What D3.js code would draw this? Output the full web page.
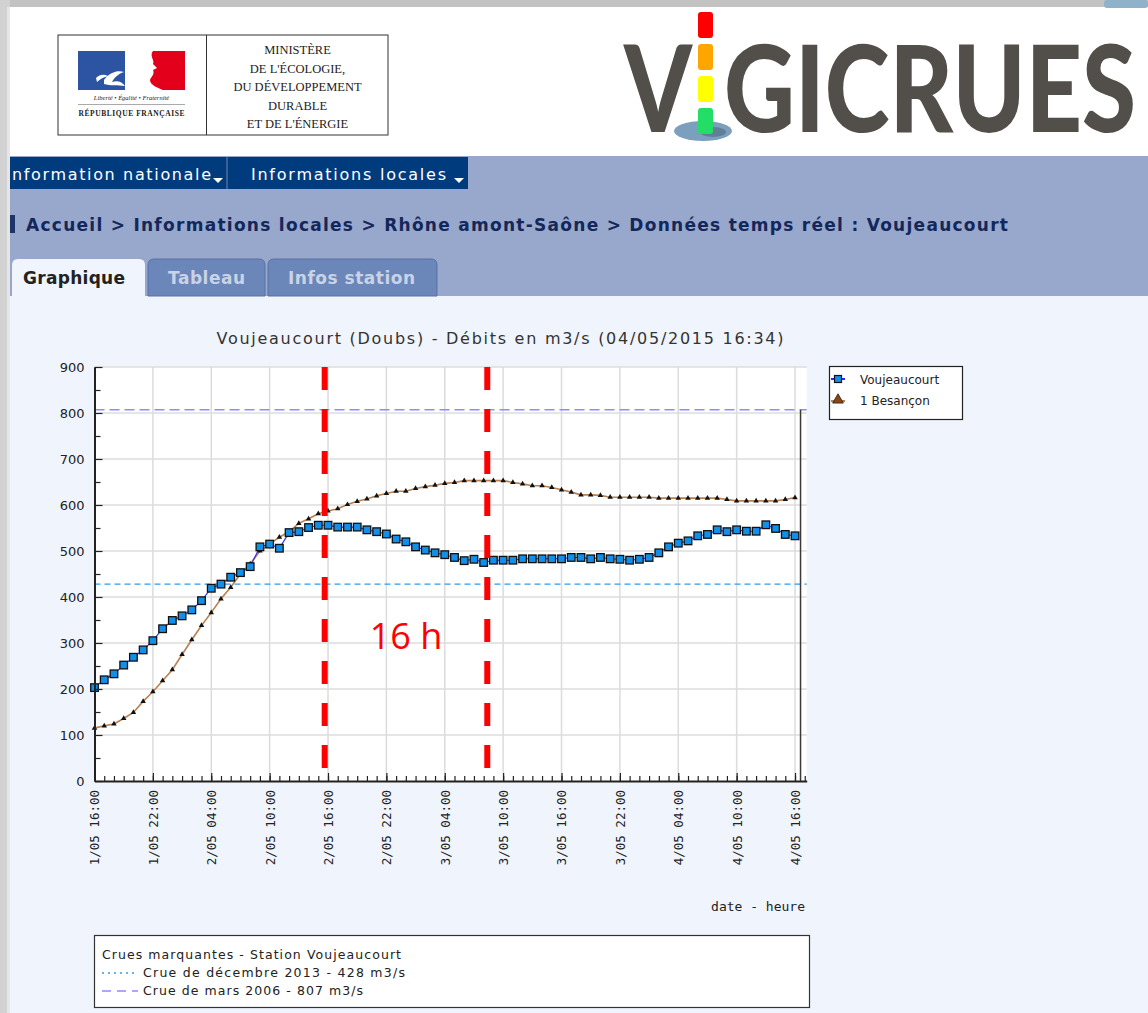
<!DOCTYPE html>
<html>
<head>
<meta charset="utf-8">
<script src="https://cdnjs.cloudflare.com/ajax/libs/d3/7.8.5/d3.min.js"></script>
<style>
  body { margin: 0; background: #fff; }
  svg { display: block; }
</style>
</head>
<body>
<script>
// DONNEES - débits horaires (m3/s) depuis le 1/05 16:00
var vouj = [203, 220, 233, 252, 269, 285, 305, 331, 349, 359,
  372, 392, 419, 428, 443, 453, 466, 509, 515, 506,
  540, 542, 551, 556, 556, 552, 552, 552, 546, 542,
  537, 526, 520, 509, 502, 496, 492,
  486, 479, 482, 475, 480, 480, 480, 483, 483, 483,
  483, 483, 486, 486, 483, 486, 483, 482, 480, 482,
  486, 496, 509, 517, 522, 533, 536, 546, 542, 546,
  543, 543, 557, 549, 536, 533];

var besancon = [115, 120, 124, 136, 149, 173, 194, 218, 242, 275,
  307, 338, 366, 396, 421, 450, 472, 500, 515, 530,
  542, 560, 570, 581, 587, 592, 601, 608, 613, 620,
  625, 630, 630, 636, 640, 643, 647,
  649, 653, 653, 653, 653, 653, 649, 646, 642, 642,
  638, 633, 628, 622, 622, 621, 617, 617, 617, 617,
  617, 615, 615, 615, 615, 615, 615, 615, 612, 609,
  609, 609, 609, 609, 612, 616];

var seriesNames = ["Voujeaucourt", "1 Besançon"];

// crues marquantes
var seuilValues = [428, 807];
var seuilLabels = ["Crue de décembre 2013 - 428 m3/s", "Crue de mars 2006 - 807 m3/s"];

// annotations ajoutées (traits rouges), en heures depuis le début
var annotHours = [23.66, 40.37];
var annotLabel = "16 h";

var yTicks = [0, 100, 200, 300, 400, 500, 600, 700, 800, 900];

var t0 = new Date(2015, 4, 1, 16, 0);
var tEnd = new Date(2015, 4, 4, 17, 12);
var tNow = new Date(2015, 4, 4, 16, 34);
var HOUR = 3600 * 1000;

// SVG
var svg = d3.select("body").append("svg")
  .attr("width", 1148)
  .attr("height", 1013)
  .style("font-family", "'DejaVu Sans', Verdana, sans-serif");

// PAGE BACKGROUND
svg.append("rect").attr("width", 1148).attr("height", 1013).attr("fill", "#ffffff");
svg.append("rect").attr("x", 0).attr("y", 0).attr("width", 1148).attr("height", 7).attr("fill", "#c2c2c2");
svg.append("rect").attr("x", 0).attr("y", 0).attr("width", 10).attr("height", 1013).attr("fill", "#d2d2d2");
svg.append("rect").attr("x", 7).attr("y", 7).attr("width", 3).attr("height", 1006).attr("fill", "#e6e6e6");
svg.append("rect").attr("x", 1104).attr("y", 0).attr("width", 44).attr("height", 8).attr("rx", 3).attr("fill", "#8fb1c9");

// MINISTERE LOGO
var logo = svg.append("g");
logo.append("rect").attr("x", 58).attr("y", 35).attr("width", 330).attr("height", 100)
  .attr("fill", "#fff").attr("stroke", "#333").attr("stroke-width", 1);
logo.append("line").attr("x1", 206.5).attr("x2", 206.5).attr("y1", 35).attr("y2", 135)
  .attr("stroke", "#333").attr("stroke-width", 1);
logo.append("rect").attr("x", 78).attr("y", 51).attr("width", 47).attr("height", 39).attr("fill", "#2d54a3");
logo.append("rect").attr("x", 146).attr("y", 51).attr("width", 39).attr("height", 39).attr("fill", "#e2001a");
logo.append("path")
  .attr("d", "M140,51 L153,51 C149,56 155,60 153,64 L157,68 L153,70 C155,74 151,77 150,80 C150,85 158,88 163,90 L140,90 Z")
  .attr("fill", "#fff");
logo.append("path")
  .attr("d", "M104,80 C110,72 118,70 124,72 C118,74 114,78 112,82 C118,80 122,82 125,86 C118,85 110,86 104,84 Z M96,78 C100,74 104,74 108,76 C104,77 100,79 97,82 Z")
  .attr("fill", "#fff");
logo.append("text").attr("x", 131.5).attr("y", 100).attr("text-anchor", "middle")
  .style("font-family", "'Liberation Serif', serif").style("font-style", "italic").style("font-size", "6.5px")
  .attr("fill", "#222").text("Liberté • Égalité • Fraternité");
logo.append("line").attr("x1", 78).attr("x2", 185).attr("y1", 104.5).attr("y2", 104.5)
  .attr("stroke", "#555").attr("stroke-width", 0.5);
logo.append("text").attr("x", 131.5).attr("y", 116).attr("text-anchor", "middle")
  .style("font-family", "'Liberation Serif', serif").style("font-weight", "bold").style("font-size", "7.5px")
  .attr("fill", "#222").attr("textLength", 106).text("RÉPUBLIQUE FRANÇAISE");

var minLines = ["MINISTÈRE", "DE L'ÉCOLOGIE,", "DU DÉVELOPPEMENT", "DURABLE", "ET DE L'ÉNERGIE"];
var minY = [54, 73, 91, 110, 128];
logo.selectAll(".min").data(minLines).enter().append("text")
  .attr("x", 297.5).attr("y", (d, i) => minY[i]).attr("text-anchor", "middle")
  .style("font-family", "'Liberation Serif', 'DejaVu Serif', serif").style("font-size", "12.5px")
  .attr("fill", "#222").text(d => d);

// VIGICRUES LOGO
var vig = svg.append("g");
vig.append("ellipse").attr("cx", 703).attr("cy", 131).attr("rx", 29).attr("ry", 10).attr("fill", "#7d9fbe");
vig.append("ellipse").attr("cx", 713).attr("cy", 132).attr("rx", 13).attr("ry", 5).attr("fill", "#627f98");
var lightCols = ["#ff0000", "#ffa500", "#ffff00", "#22dd66"];
vig.selectAll(".feu").data(lightCols).enter().append("rect")
  .attr("x", 698).attr("y", (d, i) => 12 + i * 32).attr("width", 15).attr("height", 26).attr("rx", 3)
  .attr("fill", d => d);
// lettres étirées verticalement pour garder une largeur naturelle modeste
[{t: "V", x: 624, w: 68}, {t: "GICRUES", x: 724, w: 412}].forEach(function(l) {
  vig.append("text").attr("x", 0).attr("y", 0)
    .attr("transform", `translate(${l.x},132) scale(1,1.5)`)
    .style("font-family", "Lato, Roboto, 'Open Sans', sans-serif").style("font-weight", 900).style("font-size", "80px")
    .attr("fill", "#524e49").attr("textLength", l.w).attr("lengthAdjust", "spacingAndGlyphs").text(l.t);
});

// NAVIGATION
svg.append("rect").attr("x", 10).attr("y", 156).attr("width", 1138).attr("height", 140).attr("fill", "#97a8cc");
svg.append("rect").attr("x", 10).attr("y", 157).attr("width", 216).attr("height", 32).attr("fill", "#003c7d");
svg.append("rect").attr("x", 226).attr("y", 157).attr("width", 2).attr("height", 32).attr("fill", "#3d5f95");
svg.append("rect").attr("x", 228).attr("y", 157).attr("width", 240).attr("height", 32).attr("fill", "#003c7d");
var menu = [{t: "nformation nationale", x: 12, w: 199, a: 213}, {t: "Informations locales", x: 251, w: 195, a: 454}];
menu.forEach(function(m) {
  svg.append("text").attr("x", m.x).attr("y", 180).attr("fill", "#fff")
    .style("font-size", "16px").attr("textLength", m.w).text(m.t);
  svg.append("path").attr("d", `M${m.a},178 l10,0 l-5,5 z`).attr("fill", "#fff");
});

svg.append("rect").attr("x", 10).attr("y", 215).attr("width", 5).attr("height", 18).attr("fill", "#1d3566");
svg.append("text").attr("x", 26).attr("y", 231).attr("fill", "#14275a")
  .style("font-size", "17px").style("font-weight", "bold").attr("textLength", 982)
  .text("Accueil > Informations locales > Rhône amont-Saône > Données temps réel : Voujeaucourt");

// CONTENT
svg.append("rect").attr("x", 10).attr("y", 296).attr("width", 1138).attr("height", 717).attr("fill", "#f0f5fd");

// TABS
var tabs = [
  {t: "Graphique", x0: 12, x1: 145, tx: 23, tw: 102, on: true},
  {t: "Tableau", x0: 148, x1: 265, tx: 168, tw: 77, on: false},
  {t: "Infos station", x0: 268, x1: 437, tx: 288, tw: 127, on: false}
];
tabs.forEach(function(tb) {
  var r = 6, top = 259, bot = tb.on ? 297 : 296;
  svg.append("path")
    .attr("d", `M${tb.x0},${bot} L${tb.x0},${top + r} Q${tb.x0},${top} ${tb.x0 + r},${top} L${tb.x1 - r},${top} Q${tb.x1},${top} ${tb.x1},${top + r} L${tb.x1},${bot} Z`)
    .attr("fill", tb.on ? "#f0f5fd" : "#6b86b9")
    .attr("stroke", tb.on ? "none" : "#5870a3").attr("stroke-width", 1);
  svg.append("text").attr("x", tb.tx).attr("y", 284)
    .attr("fill", tb.on ? "#222" : "#c9d3e6")
    .style("font-size", "17px").style("font-weight", "bold").attr("textLength", tb.tw).text(tb.t);
});

// CHART
var xScale = d3.scaleTime().domain([t0, tEnd]).range([94.5, 806.7]);
var yScale = d3.scaleLinear().domain([0, 900]).range([781, 367]);
var times = vouj.map((d, i) => new Date(+t0 + i * HOUR));
var majorTimes = d3.range(0, 73, 6).map(h => new Date(+t0 + h * HOUR));
var minorTimes = d3.range(0, 74).map(h => new Date(+t0 + h * HOUR));

var chart = svg.append("g");

chart.append("text").attr("x", 500).attr("y", 344).attr("text-anchor", "middle")
  .attr("fill", "#333").style("font-size", "16px").attr("textLength", 567)
  .text("Voujeaucourt (Doubs) - Débits en m3/s (04/05/2015 16:34)");

// plot area
chart.append("rect")
  .attr("x", xScale(t0)).attr("y", yScale(900))
  .attr("width", xScale(tEnd) - xScale(t0)).attr("height", yScale(0) - yScale(900))
  .attr("fill", "#fff");

// GRID
chart.selectAll(".hgrid").data(yTicks.slice(1)).enter().append("line")
  .attr("x1", xScale(t0)).attr("x2", xScale(tEnd))
  .attr("y1", d => yScale(d)).attr("y2", d => yScale(d))
  .attr("stroke", "#dcdcdc").attr("stroke-width", 1.5);
chart.selectAll(".vgrid").data(majorTimes.slice(1)).enter().append("line")
  .attr("x1", d => xScale(d)).attr("x2", d => xScale(d))
  .attr("y1", yScale(900)).attr("y2", yScale(0))
  .attr("stroke", "#dcdcdc").attr("stroke-width", 1.5);

// SEUILS
var seuilColors = ["#2d9cf0", "#8c8cff"];
var seuilDash = ["6,4", "10,5"];
chart.selectAll(".seuil").data(seuilValues).enter().append("line")
  .attr("x1", xScale(t0)).attr("x2", xScale(tEnd))
  .attr("y1", d => yScale(d)).attr("y2", d => yScale(d))
  .attr("stroke", (d, i) => seuilColors[i]).attr("stroke-width", 1.4)
  .attr("stroke-dasharray", (d, i) => seuilDash[i]);

// current time line
chart.append("line")
  .attr("x1", xScale(tNow)).attr("x2", xScale(tNow))
  .attr("y1", yScale(807)).attr("y2", yScale(0))
  .attr("stroke", "#3a3a3a").attr("stroke-width", 1.5);

// SERIES
var lineGen = d3.line().x((d, i) => xScale(times[i])).y(d => yScale(d));

chart.append("path").datum(besancon).attr("d", lineGen)
  .attr("fill", "none").attr("stroke", "#b98050").attr("stroke-width", 1.6);
chart.append("path").datum(vouj).attr("d", lineGen)
  .attr("fill", "none").attr("stroke", "#2a2aff").attr("stroke-width", 1.1);

var tri = d3.symbol().type(d3.symbolTriangle).size(13);
chart.selectAll(".bes").data(besancon).enter().append("path")
  .attr("d", tri)
  .attr("transform", (d, i) => `translate(${xScale(times[i])},${yScale(d)})`)
  .attr("fill", "#111");

chart.selectAll(".vj").data(vouj).enter().append("rect")
  .attr("x", (d, i) => xScale(times[i]) - 3.8).attr("y", d => yScale(d) - 3.8)
  .attr("width", 7.6).attr("height", 7.6)
  .attr("fill", "#128fe8").attr("stroke", "#111").attr("stroke-width", 1.3);

// ANNOTATIONS (rouge)
var annotTimes = annotHours.map(h => new Date(+t0 + h * HOUR));
chart.selectAll(".annot").data(annotTimes).enter().append("line")
  .attr("x1", d => xScale(d)).attr("x2", d => xScale(d))
  .attr("y1", yScale(900)).attr("y2", yScale(13))
  .attr("stroke", "#ff0000").attr("stroke-width", 6).attr("stroke-dasharray", "23,19");
chart.append("text")
  .attr("x", (xScale(annotTimes[0]) + xScale(annotTimes[1])) / 2).attr("y", 649)
  .attr("text-anchor", "middle").attr("fill", "#ff0000")
  .style("font-family", "'Open Sans', 'Liberation Sans', sans-serif").style("font-size", "36px")
  .text(annotLabel);

// AXES
var yAxis = chart.append("g").attr("transform", `translate(${xScale(t0)},0)`)
  .call(d3.axisLeft(yScale).tickValues(yTicks).tickSize(-8).tickSizeOuter(0).tickPadding(10));
chart.append("g").attr("transform", `translate(${xScale(t0)},0)`)
  .call(d3.axisLeft(yScale).tickValues(yTicks.slice(1).map(v => v - 50)).tickSize(-6).tickSizeOuter(0).tickFormat(""))
  .select(".domain").remove();
yAxis.selectAll("text").style("font-size", "13px").style("font-family", "'DejaVu Sans', sans-serif").attr("fill", "#222");

chart.append("g").attr("transform", `translate(0,${yScale(0)})`)
  .call(d3.axisBottom(xScale).tickValues(minorTimes).tickSize(-5).tickSizeOuter(0).tickFormat(""))
  .select(".domain").remove();
var xAxis = chart.append("g").attr("transform", `translate(0,${yScale(0)})`)
  .call(d3.axisBottom(xScale).tickValues(majorTimes).tickSize(-8).tickSizeOuter(0)
    .tickFormat(d3.timeFormat("%-d/%m %H:%M")));
xAxis.selectAll("text")
  .attr("transform", "rotate(-90)")
  .attr("text-anchor", "end")
  .attr("x", -9).attr("y", 0).attr("dy", "0.35em")
  .style("font-size", "12.5px").style("font-family", "'DejaVu Sans Mono', monospace").attr("fill", "#222");

chart.selectAll(".domain, .tick line").attr("stroke", "#222");
chart.selectAll(".domain").attr("stroke-width", 2);
chart.selectAll(".tick line").attr("stroke-width", 1.2);

chart.append("text").attr("x", 805).attr("y", 911).attr("text-anchor", "end")
  .style("font-size", "13px").style("font-family", "'DejaVu Sans Mono', monospace").attr("fill", "#222")
  .text("date - heure");

// LEGENDE SERIES
var leg = chart.append("g");
leg.append("rect").attr("x", 829.5).attr("y", 366.5).attr("width", 133).attr("height", 53)
  .attr("fill", "#fff").attr("stroke", "#222").attr("stroke-width", 1.2);
leg.append("line").attr("x1", 831).attr("x2", 845).attr("y1", 379).attr("y2", 379).attr("stroke", "#2a2aff").attr("stroke-width", 2);
leg.append("rect").attr("x", 834.5).attr("y", 375.5).attr("width", 7).attr("height", 7)
  .attr("fill", "#128fe8").attr("stroke", "#111").attr("stroke-width", 1.2);
leg.append("line").attr("x1", 831).attr("x2", 845).attr("y1", 401).attr("y2", 401).attr("stroke", "#b98050").attr("stroke-width", 2);
leg.append("path").attr("d", d3.symbol().type(d3.symbolTriangle).size(50))
  .attr("transform", "translate(838,400)").attr("fill", "#8b4513").attr("stroke", "#222").attr("stroke-width", 0.8);
leg.selectAll(".lt").data(seriesNames).enter().append("text")
  .attr("x", 860).attr("y", (d, i) => 384 + i * 21)
  .style("font-size", "12px").attr("fill", "#222").text(d => d);

// LEGENDE CRUES
var leg2 = chart.append("g");
leg2.append("rect").attr("x", 94.5).attr("y", 935.5).attr("width", 715).attr("height", 72)
  .attr("fill", "#fff").attr("stroke", "#333").attr("stroke-width", 1.2);
leg2.append("text").attr("x", 102).attr("y", 959).style("font-size", "12.5px").attr("fill", "#222")
  .attr("textLength", 299).text("Crues marquantes - Station Voujeaucourt");
leg2.selectAll(".sl").data(seuilLabels).enter().append("text")
  .attr("x", 143).attr("y", (d, i) => 977 + i * 18)
  .style("font-size", "12.5px").attr("fill", "#222")
  .attr("textLength", (d, i) => i === 0 ? 262 : 220).text(d => d);
leg2.selectAll(".sw").data(seuilValues).enter().append("line")
  .attr("x1", 102).attr("x2", 138).attr("y1", (d, i) => 973 + i * 18).attr("y2", (d, i) => 973 + i * 18)
  .attr("stroke", (d, i) => seuilColors[i]).attr("stroke-width", 1.4)
  .attr("stroke-dasharray", (d, i) => i === 0 ? "2,4" : "9,6");
</script>
</body>
</html>
